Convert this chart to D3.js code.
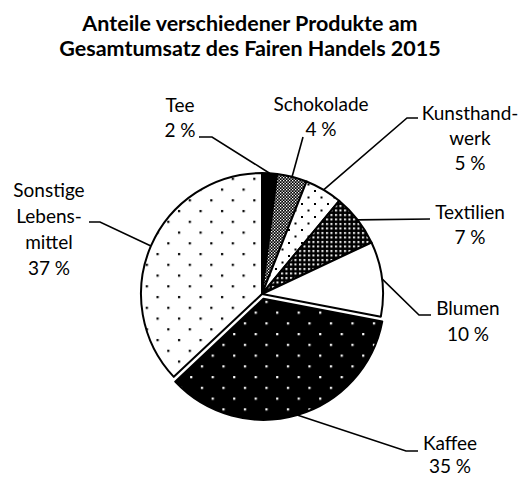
<!DOCTYPE html>
<html><head><meta charset="utf-8">
<script src="https://cdn.jsdelivr.net/npm/d3@7"></script>
<style>
body{margin:0;background:#fff;}
svg{display:block;}
text{font-family:Lato,"Open Sans",sans-serif;fill:#000;}
</style></head>
<body>
<svg id="c" width="532" height="477"></svg>
<script>
// ---- data ----
const categories = ["Tee","Schokolade","Kunsthandwerk","Textilien","Blumen","Kaffee","Sonstige Lebensmittel"];
const values = [2,4,5,7,10,35,37];
const labelLines = [["Tee","2 %"],["Schokolade","4 %"],["Kunsthand-","werk","5 %"],["Textilien","7 %"],["Blumen","10 %"],["Kaffee","35 %"],["Sonstige","Lebens-","mittel","37 %"]];
const titleLines = ["Anteile verschiedener Produkte am","Gesamtumsatz des Fairen Handels 2015"];

// ---- layout ----
const cx = 262, cy = 294, R = 121;
const explode = [0,0,0,0,0,5,0];
const fills = ["url(#pSolid)","url(#pChecker)","url(#pSmallDots)","url(#pBlackSquares)","#fff","url(#pKaffee)","url(#pSonst)"];
// label anchor (center x, first baseline y), leader elbow + end
const labelPos = [
  {x:180,y:112, elbow:[212,137], end:[199,137], lh:25},
  {x:321,y:111, elbow:[303,137], end:[303,137], lh:25},
  {x:470,y:120, elbow:[407,118], end:[418,118], lh:25},
  {x:470,y:219, elbow:[430,219], end:[430,219], lh:25},
  {x:468,y:315, elbow:[419,315], end:[431,315], lh:26},
  {x:450,y:450, elbow:[406,451], end:[418,451], lh:23},
  {x:49, y:197, elbow:[100,222], end:[89,222], lh:26}
];

const svg = d3.select("#c");
const defs = svg.append("defs");
function pat(id,w,h,bg,draw){
  const p = defs.append("pattern").attr("id",id).attr("patternUnits","userSpaceOnUse")
    .attr("width",w).attr("height",h);
  p.append("rect").attr("width",w).attr("height",h).attr("fill",bg);
  draw(p);
}
pat("pSolid",4,4,"#000",()=>{});
pat("pChecker",3,3,"#000",p=>{
  p.append("rect").attr("x",0).attr("y",0).attr("width",1.3).attr("height",1.3).attr("fill","#fff");
  p.append("rect").attr("x",1.5).attr("y",1.5).attr("width",1.3).attr("height",1.3).attr("fill","#fff");
});
pat("pSmallDots",13,13,"#fff",p=>{
  p.append("rect").attr("x",0).attr("y",0).attr("width",2).attr("height",2).attr("fill","#000");
  p.append("rect").attr("x",6.5).attr("y",6.5).attr("width",2).attr("height",2).attr("fill","#000");
});
pat("pBlackSquares",4.5,4.5,"#000",p=>{
  p.append("rect").attr("x",1).attr("y",1).attr("width",2).attr("height",2).attr("fill","#fff");
});
pat("pKaffee",21.5,21.5,"#000",p=>{
  p.append("rect").attr("x",2).attr("y",2).attr("width",2.2).attr("height",2.2).attr("fill","#fff");
  p.append("rect").attr("x",12.75).attr("y",12.75).attr("width",2.2).attr("height",2.2).attr("fill","#fff");
});
pat("pSonst",21.5,21.5,"#fff",p=>{
  p.append("rect").attr("x",2).attr("y",2).attr("width",2.2).attr("height",2.2).attr("fill","#000");
  p.append("rect").attr("x",12.75).attr("y",12.75).attr("width",2.2).attr("height",2.2).attr("fill","#000");
});

// title
svg.append("text").attr("text-anchor","middle")
  .style("font-weight","bold").style("font-size","21.5px")
  .selectAll("tspan").data(titleLines).join("tspan")
  .attr("x",250).attr("y",(d,i)=>31+i*25).text(d=>d);

const pie = d3.pie().sort(null).value(d=>d)(values);
const arc = d3.arc().innerRadius(0).outerRadius(R);
const g = svg.append("g").attr("transform",`translate(${cx},${cy})`);
function off(d,i){
  const a = (d.startAngle+d.endAngle)/2;
  return [Math.sin(a)*explode[i], -Math.cos(a)*explode[i]];
}
g.selectAll("path.slice").data(pie).join("path").attr("class","slice")
  .attr("d",arc)
  .attr("transform",(d,i)=>{const o=off(d,i);return `translate(${o[0]},${o[1]})`;})
  .attr("fill",(d,i)=>fills[i])
  .attr("stroke","#000").attr("stroke-width",2).attr("stroke-linejoin","round");

// leader lines
pie.forEach((d,i)=>{
  const a = (d.startAngle+d.endAngle)/2, o = off(d,i);
  const px = cx + o[0] + Math.sin(a)*R, py = cy + o[1] - Math.cos(a)*R;
  const lp = labelPos[i];
  svg.append("path").attr("d",d3.line()([[px,py],lp.elbow,lp.end]))
    .attr("fill","none").attr("stroke","#000").attr("stroke-width",1.6);
});

// labels
labelLines.forEach((lines,i)=>{
  const lp = labelPos[i];
  svg.append("text").attr("text-anchor","middle").style("font-size","19px")
    .selectAll("tspan").data(lines).join("tspan")
    .attr("x",lp.x).attr("y",(d,j)=>lp.y+j*lp.lh).text(d=>d);
});
</script>
</body></html>
